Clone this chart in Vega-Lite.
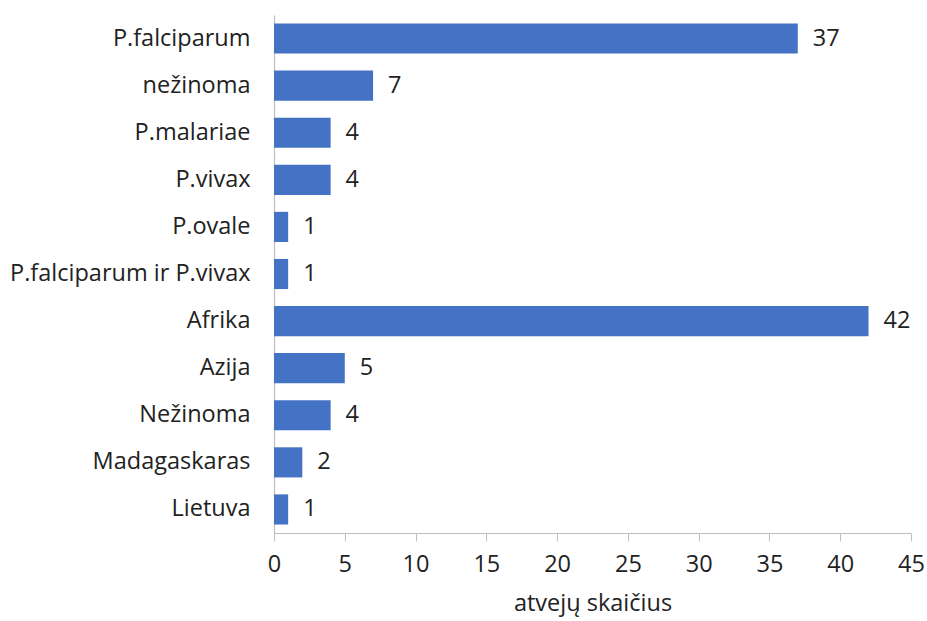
{
  "$schema": "https://vega.github.io/schema/vega-lite/v6.json",
  "width": 637,
  "height": 518,
  "autosize": "none",
  "padding": {"left": 274, "top": 15, "right": 16, "bottom": 88},
  "background": "white",
  "config": {"view": {"stroke": null}, "font": "Open Sans"},
  "data": {"values": [
    {"cat": "P.falciparum", "v": 37},
    {"cat": "nežinoma", "v": 7},
    {"cat": "P.malariae", "v": 4},
    {"cat": "P.vivax", "v": 4},
    {"cat": "P.ovale", "v": 1},
    {"cat": "P.falciparum ir P.vivax", "v": 1},
    {"cat": "Afrika", "v": 42},
    {"cat": "Azija", "v": 5},
    {"cat": "Nežinoma", "v": 4},
    {"cat": "Madagaskaras", "v": 2},
    {"cat": "Lietuva", "v": 1}
  ]},
  "encoding": {
    "y": {"field": "cat", "type": "nominal", "sort": null,
      "scale": {"paddingInner": 0.36, "paddingOuter": 0.18},
      "axis": {"title": null, "ticks": false, "labelPadding": 24, "labelFontSize": 23.5, "labelColor": "#222222", "domainColor": "#bfbfbf", "domainWidth": 1.2, "labelLimit": 400}},
    "x": {"field": "v", "type": "quantitative",
      "scale": {"domain": [0, 45], "nice": false},
      "axis": {"values": [0,5,10,15,20,25,30,35,40,45], "grid": false, "title": "atvejų skaičius", "titleFontSize": 23.5, "titleFontWeight": "normal", "titleColor": "#222222", "titlePadding": 16, "labelFontSize": 23.5, "labelColor": "#222222", "labelPadding": 11, "tickSize": 8, "tickColor": "#bfbfbf", "domainColor": "#bfbfbf", "domainWidth": 1.2, "labelFlush": false}}
  },
  "layer": [
    {"mark": {"type": "bar", "color": "#4472C4"}},
    {"mark": {"type": "text", "align": "left", "dx": 15, "fontSize": 23.5, "color": "#222222"},
     "encoding": {"text": {"field": "v", "type": "quantitative"}}}
  ]
}
